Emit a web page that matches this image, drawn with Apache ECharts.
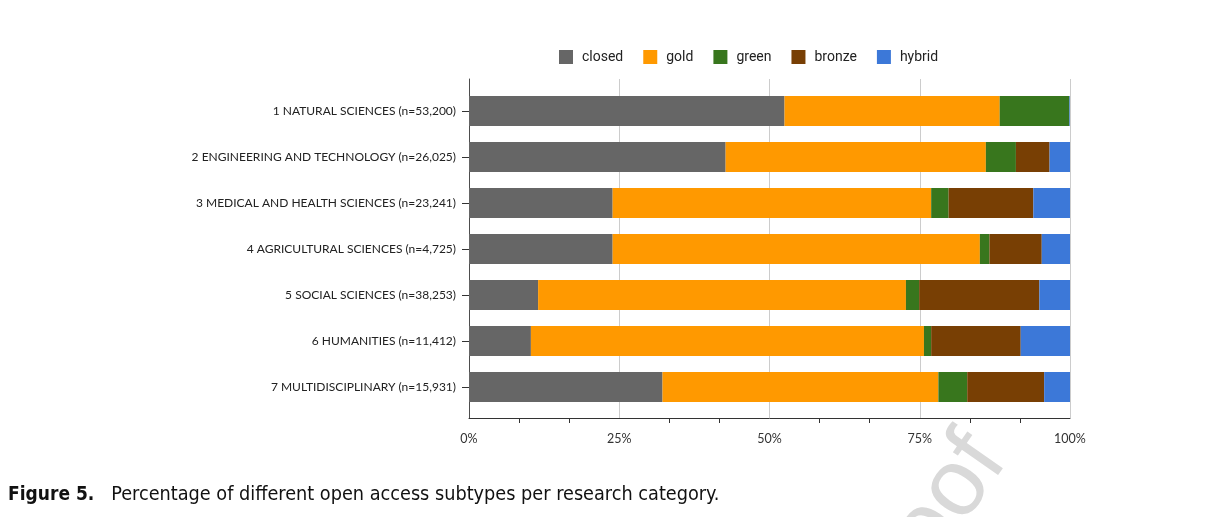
<!DOCTYPE html>
<html>
<head>
<meta charset="utf-8">
<script src="https://cdn.jsdelivr.net/npm/echarts@6/dist/echarts.min.js"></script>
<style>
html,body{margin:0;padding:0;background:#fff;}
#chart{width:1216px;height:517px;}
</style>
</head>
<body>
<div id="chart"></div>
<script>
var categories = [
  '1 NATURAL SCIENCES (n=53,200)',
  '2 ENGINEERING AND TECHNOLOGY (n=26,025)',
  '3 MEDICAL AND HEALTH SCIENCES (n=23,241)',
  '4 AGRICULTURAL SCIENCES (n=4,725)',
  '5 SOCIAL SCIENCES (n=38,253)',
  '6 HUMANITIES (n=11,412)',
  '7 MULTIDISCIPLINARY (n=15,931)'
];
var closedValues = [52.5, 42.7, 23.9, 23.9, 11.5, 10.3, 32.2];
var goldValues   = [35.8, 43.3, 53.0, 61.1, 61.2, 65.4, 45.9];
var greenValues  = [11.6, 5.0, 2.9, 1.6, 2.2, 1.2, 4.8];
var bronzeValues = [0, 5.6, 14.1, 8.7, 20.0, 14.9, 12.8];
var hybridValues = [0.1, 3.4, 6.1, 4.7, 5.1, 8.2, 4.3];
var seriesNames = ['closed', 'gold', 'green', 'bronze', 'hybrid'];
var seriesColors = ['#666666', '#ff9900', '#38761d', '#783f04', '#3c78d8'];
var seriesData = [closedValues, goldValues, greenValues, bronzeValues, hybridValues];
var xTicks = [0, 25, 50, 75, 100];

var chart = echarts.init(document.getElementById('chart'));
var series = seriesNames.map(function (n, i) {
  return {
    name: n,
    type: 'bar',
    stack: 'total',
    xAxisIndex: 1,
    yAxisIndex: 1,
    barWidth: 30,
    itemStyle: { color: seriesColors[i] },
    emphasis: { disabled: true },
    data: seriesData[i]
  };
});

var captionFont = '"Liberation Sans Narrow","DejaVu Sans Condensed","Liberation Sans"';

chart.setOption({
  animation: false,
  backgroundColor: '#ffffff',
  title: {
    left: 3,
    top: 480,
    text: '{b|Figure 5.}{n|   Percentage of different open access subtypes per research category.}',
    textStyle: {
      rich: {
        b: { fontFamily: captionFont, fontWeight: 'bold', fontSize: 19, color: '#111' },
        n: { fontFamily: captionFont, fontWeight: 'normal', fontSize: 19.7, color: '#111' }
      }
    }
  },
  legend: {
    left: 554,
    top: 45,
    itemWidth: 14,
    itemHeight: 14,
    itemGap: 20,
    icon: 'rect',
    selectedMode: false,
    textStyle: { fontFamily: 'Roboto', fontSize: 14, color: '#222', padding: [0, 0, 0, 4] },
    data: seriesNames
  },
  grid: [
    { left: 469, right: 146, top: 79, height: 339, containLabel: false },
    { left: 469, right: 146, top: 88, height: 322, containLabel: false }
  ],
  xAxis: [
    {
      gridIndex: 0,
      type: 'value',
      min: xTicks[0],
      max: xTicks[xTicks.length - 1],
      interval: 25,
      axisLine: { show: true, lineStyle: { color: '#333', width: 1 } },
      axisTick: { show: false },
      minorTick: { show: true, splitNumber: 3, length: 5, lineStyle: { color: '#333', width: 1 } },
      minorSplitLine: { show: false },
      splitLine: { show: true, lineStyle: { color: '#cccccc', width: 1 } },
      axisLabel: {
        margin: 14,
        fontFamily: '"Liberation Sans Narrow","Lato"',
        fontSize: 12.5,
        color: '#333',
        formatter: '{value}%'
      }
    },
    {
      gridIndex: 1,
      type: 'value',
      min: 0,
      max: 100,
      show: false
    }
  ],
  yAxis: [
    {
      gridIndex: 0,
      type: 'value',
      min: 0,
      max: 1,
      axisLine: { show: true, lineStyle: { color: '#4d4d4d', width: 1 } },
      axisTick: { show: false },
      axisLabel: { show: false },
      splitLine: { show: false }
    },
    {
      gridIndex: 1,
      type: 'category',
      inverse: true,
      data: categories,
      axisLine: { show: false },
      axisTick: { show: true, alignWithLabel: true, length: 7, lineStyle: { color: '#333', width: 1 } },
      axisLabel: {
        margin: 13,
        fontFamily: 'Lato',
        fontSize: 12,
        color: '#222'
      },
      splitLine: { show: false }
    }
  ],
  graphic: [
    {
      type: 'text',
      x: 948,
      y: 418,
      rotation: 55 * Math.PI / 180,
      z: -1,
      silent: true,
      style: {
        text: 'Proof',
        fontFamily: '"Liberation Sans"',
        fontWeight: 'normal',
        fontSize: 95,
        fill: '#d9d9d9',
        align: 'right',
        verticalAlign: 'top'
      }
    }
  ],
  series: series
});
</script>
</body>
</html>
